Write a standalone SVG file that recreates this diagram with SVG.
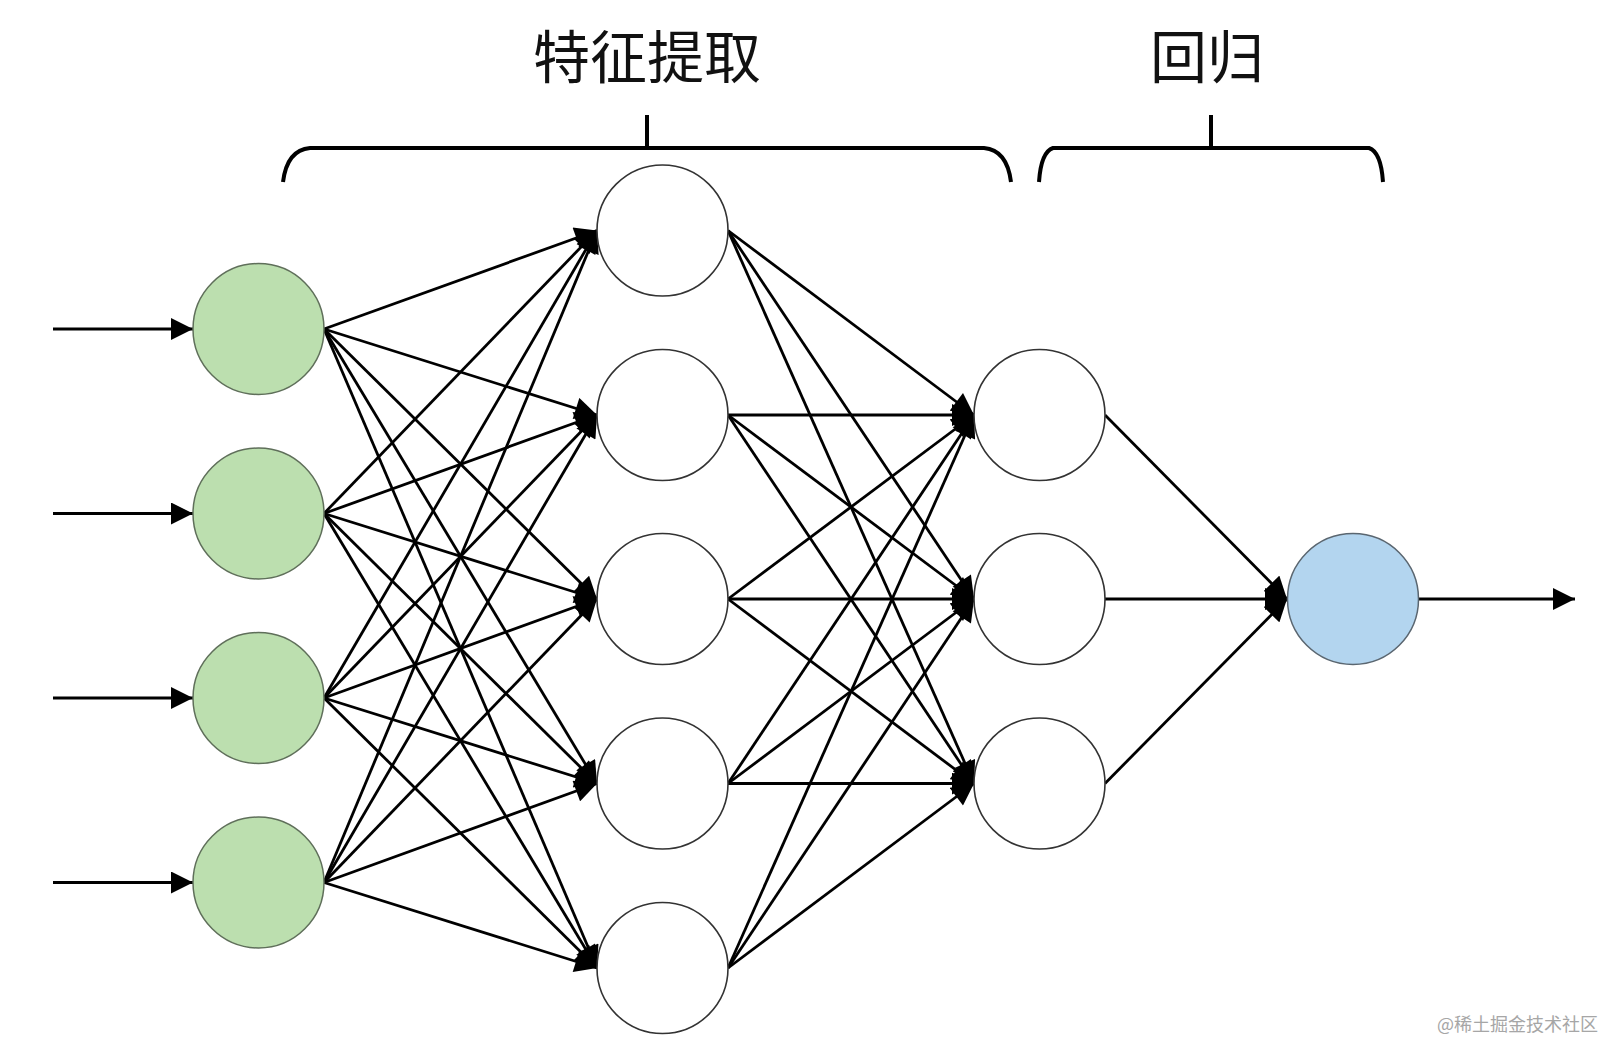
<svg xmlns="http://www.w3.org/2000/svg" width="1606" height="1040" viewBox="0 0 1606 1040">
<style>
.bg{fill:#ffffff}
.in{fill:#bcdfaf;stroke:#5f6f5a;stroke-width:1.5}
.hid{fill:#ffffff;stroke:#333333;stroke-width:1.6}
.out{fill:#b3d5ef;stroke:#5a6670;stroke-width:1.5}
.edge{stroke:#000000;stroke-width:2.8;fill:none;marker-end:url(#ah)}
.brace{stroke:#000000;stroke-width:4;fill:none}
.title{font-family:"Noto Sans CJK SC","Noto Sans",sans-serif;font-size:57px;fill:#111111;text-anchor:middle}
.wm{font-family:"Noto Sans CJK SC","Noto Sans",sans-serif;font-size:18px;fill:#a6a6a6;text-anchor:end}
</style>
<defs>
<marker id="ah" viewBox="0 0 10 10" refX="10" refY="5" markerUnits="userSpaceOnUse" markerWidth="23" markerHeight="22" orient="auto">
<path d="M0,0 L10,5 L0,10 z" fill="#000000"/>
</marker>
</defs>
<rect class="bg" x="0" y="0" width="1606" height="1040"/>

<g id="labels">
<text class="title" x="647" y="78">特征提取</text>
<text class="title" x="1207" y="78">回归</text>
</g>

<g id="braces">
<path class="brace" d="M283,182 Q287,150 310,148 L984,148 Q1007,150 1011,182"/>
<line class="brace" x1="647" y1="115" x2="647" y2="148"/>
<path class="brace" d="M1039,182 Q1041,152 1053,148 L1369,148 Q1381,152 1383,182"/>
<line class="brace" x1="1211" y1="115" x2="1211" y2="148"/>
</g>

<g id="connectors">
<!-- inputs -->
<line class="edge" x1="53" y1="329" x2="193" y2="329"/>
<line class="edge" x1="53" y1="513.5" x2="193" y2="513.5"/>
<line class="edge" x1="53" y1="698" x2="193" y2="698"/>
<line class="edge" x1="53" y1="882.5" x2="193" y2="882.5"/>
<!-- input -> hidden1 -->
<line class="edge" x1="324" y1="329" x2="597" y2="230.5"/>
<line class="edge" x1="324" y1="329" x2="597" y2="415"/>
<line class="edge" x1="324" y1="329" x2="597" y2="599"/>
<line class="edge" x1="324" y1="329" x2="597" y2="783.5"/>
<line class="edge" x1="324" y1="329" x2="597" y2="968"/>
<line class="edge" x1="324" y1="513.5" x2="597" y2="230.5"/>
<line class="edge" x1="324" y1="513.5" x2="597" y2="415"/>
<line class="edge" x1="324" y1="513.5" x2="597" y2="599"/>
<line class="edge" x1="324" y1="513.5" x2="597" y2="783.5"/>
<line class="edge" x1="324" y1="513.5" x2="597" y2="968"/>
<line class="edge" x1="324" y1="698" x2="597" y2="230.5"/>
<line class="edge" x1="324" y1="698" x2="597" y2="415"/>
<line class="edge" x1="324" y1="698" x2="597" y2="599"/>
<line class="edge" x1="324" y1="698" x2="597" y2="783.5"/>
<line class="edge" x1="324" y1="698" x2="597" y2="968"/>
<line class="edge" x1="324" y1="882.5" x2="597" y2="230.5"/>
<line class="edge" x1="324" y1="882.5" x2="597" y2="415"/>
<line class="edge" x1="324" y1="882.5" x2="597" y2="599"/>
<line class="edge" x1="324" y1="882.5" x2="597" y2="783.5"/>
<line class="edge" x1="324" y1="882.5" x2="597" y2="968"/>
<!-- hidden1 -> hidden2 -->
<line class="edge" x1="728" y1="230.5" x2="974" y2="415"/>
<line class="edge" x1="728" y1="230.5" x2="974" y2="599"/>
<line class="edge" x1="728" y1="230.5" x2="974" y2="783.5"/>
<line class="edge" x1="728" y1="415" x2="974" y2="415"/>
<line class="edge" x1="728" y1="415" x2="974" y2="599"/>
<line class="edge" x1="728" y1="415" x2="974" y2="783.5"/>
<line class="edge" x1="728" y1="599" x2="974" y2="415"/>
<line class="edge" x1="728" y1="599" x2="974" y2="599"/>
<line class="edge" x1="728" y1="599" x2="974" y2="783.5"/>
<line class="edge" x1="728" y1="783.5" x2="974" y2="415"/>
<line class="edge" x1="728" y1="783.5" x2="974" y2="599"/>
<line class="edge" x1="728" y1="783.5" x2="974" y2="783.5"/>
<line class="edge" x1="728" y1="968" x2="974" y2="415"/>
<line class="edge" x1="728" y1="968" x2="974" y2="599"/>
<line class="edge" x1="728" y1="968" x2="974" y2="783.5"/>
<!-- hidden2 -> output -->
<line class="edge" x1="1105" y1="415" x2="1287" y2="599"/>
<line class="edge" x1="1105" y1="599" x2="1287" y2="599"/>
<line class="edge" x1="1105" y1="783.5" x2="1287" y2="599"/>
<!-- output -->
<line class="edge" x1="1419" y1="599" x2="1575" y2="599"/>
</g>

<g id="input-1"><circle class="in" cx="258.5" cy="329" r="65.5"/></g>
<g id="input-2"><circle class="in" cx="258.5" cy="513.5" r="65.5"/></g>
<g id="input-3"><circle class="in" cx="258.5" cy="698" r="65.5"/></g>
<g id="input-4"><circle class="in" cx="258.5" cy="882.5" r="65.5"/></g>

<g id="hidden1-1"><circle class="hid" cx="662.5" cy="230.5" r="65.5"/></g>
<g id="hidden1-2"><circle class="hid" cx="662.5" cy="415" r="65.5"/></g>
<g id="hidden1-3"><circle class="hid" cx="662.5" cy="599" r="65.5"/></g>
<g id="hidden1-4"><circle class="hid" cx="662.5" cy="783.5" r="65.5"/></g>
<g id="hidden1-5"><circle class="hid" cx="662.5" cy="968" r="65.5"/></g>

<g id="hidden2-1"><circle class="hid" cx="1039.5" cy="415" r="65.5"/></g>
<g id="hidden2-2"><circle class="hid" cx="1039.5" cy="599" r="65.5"/></g>
<g id="hidden2-3"><circle class="hid" cx="1039.5" cy="783.5" r="65.5"/></g>

<g id="output"><circle class="out" cx="1353" cy="599" r="65.5"/></g>

<text class="wm" x="1598" y="1031">@稀土掘金技术社区</text>
</svg>
